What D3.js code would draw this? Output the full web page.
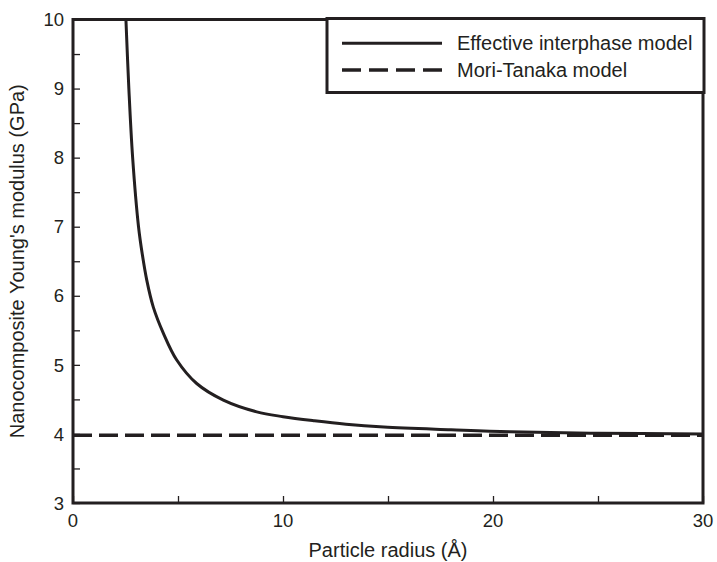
<!DOCTYPE html>
<html>
<head>
<meta charset="utf-8">
<script src="https://cdn.jsdelivr.net/npm/d3@7"></script>
<style>
  body { margin: 0; background: #fff; }
  svg text { font-family: "Liberation Sans", Arial, sans-serif; fill: #231f20; }
</style>
</head>
<body>
<div id="chart"></div>
<script>
// ============================================================
// Data
// ============================================================
var radius = [2.52, 2.66, 2.84, 3.12, 3.3, 3.51, 3.82, 4.3, 4.94, 5.89, 7.16, 8.75, 10, 11.5, 13, 14.8, 18, 20.8, 25, 30];
var effectiveModulus = [10, 9, 8, 7, 6.6, 6.23, 5.84, 5.46, 5.07, 4.73, 4.49, 4.32, 4.25, 4.19, 4.14, 4.1, 4.06, 4.03, 4.01, 4.0];
var moriTanakaRadius = [0, 30];
var moriTanakaModulus = [3.98, 3.98];
var xTickLabels = [0, 10, 20, 30];
var yTickLabels = [3, 4, 5, 6, 7, 8, 9, 10];
var legendLabels = ["Effective interphase model", "Mori-Tanaka model"];

var width = 717, height = 562;
var margin = { top: 19.5, right: 14, bottom: 59, left: 73 };
var ink = "#231f20";

var svg = d3.select("#chart").append("svg")
    .attr("width", width)
    .attr("height", height);

var x = d3.scaleLinear().domain([0, 30]).range([margin.left, width - margin.right]);
var y = d3.scaleLinear().domain([3, 10]).range([height - margin.bottom, margin.top]);

svg.append("clipPath").attr("id", "plotClip")
    .append("rect")
    .attr("x", x(0)).attr("y", y(10))
    .attr("width", x(30) - x(0)).attr("height", y(3) - y(10));

// inward ticks, no domain line (frame drawn separately)
var xAxis = d3.axisTop(x).tickValues(d3.range(0, 30.1, 5)).tickSize(7).tickFormat("");
svg.append("g").attr("transform", "translate(0," + y(3) + ")").call(xAxis)
    .call(function (g) { g.select(".domain").remove(); })
    .selectAll("line").attr("stroke", ink).attr("stroke-width", 1.3);

var yAxis = d3.axisRight(y).tickValues(d3.range(3, 10.01, 0.5)).tickSize(7).tickFormat("");
svg.append("g").attr("transform", "translate(" + x(0) + ",0)").call(yAxis)
    .call(function (g) { g.select(".domain").remove(); })
    .selectAll("line").attr("stroke", ink).attr("stroke-width", 1.3);

// tick labels
svg.append("g").selectAll("text").data(xTickLabels).enter().append("text")
    .attr("x", function (d) { return x(d); })
    .attr("y", y(3) + 24)
    .attr("text-anchor", "middle")
    .style("font-size", "18.5px")
    .text(function (d) { return d; });

svg.append("g").selectAll("text").data(yTickLabels).enter().append("text")
    .attr("x", x(0) - 9)
    .attr("y", function (d) { return y(d); })
    .attr("dy", "0.36em")
    .attr("text-anchor", "end")
    .style("font-size", "18.5px")
    .text(function (d) { return d; });

// lines
var line = d3.line()
    .x(function (d) { return x(d[0]); })
    .y(function (d) { return y(d[1]); })
    .curve(d3.curveCatmullRom.alpha(0.5));

svg.append("path")
    .datum(d3.zip(moriTanakaRadius, moriTanakaModulus))
    .attr("clip-path", "url(#plotClip)")
    .attr("d", line)
    .attr("fill", "none")
    .attr("stroke", ink)
    .attr("stroke-width", 3.5)
    .attr("stroke-dasharray", "19,7");

svg.append("path")
    .datum(d3.zip(radius, effectiveModulus))
    .attr("clip-path", "url(#plotClip)")
    .attr("d", line)
    .attr("fill", "none")
    .attr("stroke", ink)
    .attr("stroke-width", 3);

// frame
svg.append("rect")
    .attr("x", x(0)).attr("y", y(10))
    .attr("width", x(30) - x(0)).attr("height", y(3) - y(10))
    .attr("fill", "none")
    .attr("stroke", ink)
    .attr("stroke-width", 3);

// legend
var legend = svg.append("g");
legend.append("rect")
    .attr("x", 327).attr("y", 18.5)
    .attr("width", 377).attr("height", 74)
    .attr("fill", "#fff")
    .attr("stroke", ink)
    .attr("stroke-width", 3);

var legendRows = legend.selectAll("g.row").data(legendLabels).enter().append("g")
    .attr("class", "row")
    .attr("transform", function (d, i) { return "translate(342," + (43.3 + i * 26.7) + ")"; });

legendRows.append("line")
    .attr("x1", 0).attr("x2", 100)
    .attr("stroke", ink)
    .attr("stroke-width", function (d, i) { return i === 0 ? 3 : 3.5; })
    .attr("stroke-dasharray", function (d, i) { return i === 0 ? null : "19,8"; });

legendRows.append("text")
    .attr("x", 115)
    .attr("y", 7)
    .style("font-size", "20px")
    .text(function (d) { return d; });

// axis titles
svg.append("text")
    .attr("x", (x(0) + x(30)) / 2)
    .attr("y", 557)
    .attr("text-anchor", "middle")
    .style("font-size", "20px")
    .text("Particle radius (Å)");

svg.append("text")
    .attr("transform", "translate(24," + (y(6.5)) + ") rotate(-90)")
    .attr("text-anchor", "middle")
    .style("font-size", "20px")
    .text("Nanocomposite Young's modulus (GPa)");
</script>
</body>
</html>
